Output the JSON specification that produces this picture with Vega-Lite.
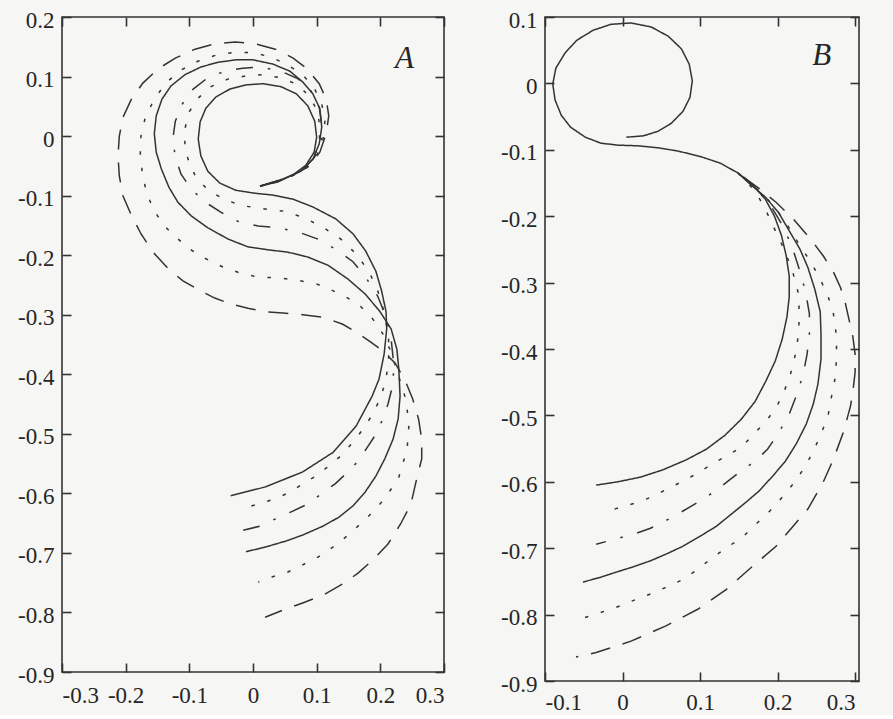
{
"$schema": "https://vega.github.io/schema/vega-lite/v6.json",
"background": "#f6f6f4",
"padding": {"left": 16, "top": 8, "right": 37, "bottom": 0},
"spacing": 101,
"bounds": "flush",
"config": {
  "view": {"stroke": "#333333", "strokeWidth": 1.6},
  "axis": {"labelFont": "Liberation Serif", "labelFontSize": 23, "labelColor": "#262626", "tickColor": "#333333", "tickSize": -9, "tickWidth": 1.6, "domain": false, "grid": false, "title": null, "labelPadding": 17, "labelExpr": "toString(round(datum.value*10)/10)"}
},
"datasets": {
"lineA": [
{"c":"s1","s":"solid","o":1,"x":0.011,"y":-0.084},{"c":"s1","s":"solid","o":2,"x":0.039,"y":-0.077},{"c":"s1","s":"solid","o":3,"x":0.063,"y":-0.065},{"c":"s1","s":"solid","o":4,"x":0.083,"y":-0.049},{"c":"s1","s":"solid","o":5,"x":0.096,"y":-0.027},{"c":"s1","s":"solid","o":6,"x":0.1,"y":-0.002},{"c":"s1","s":"solid","o":7,"x":0.097,"y":0.025},{"c":"s1","s":"solid","o":8,"x":0.086,"y":0.051},{"c":"s1","s":"solid","o":9,"x":0.068,"y":0.071},{"c":"s1","s":"solid","o":10,"x":0.044,"y":0.083},{"c":"s1","s":"solid","o":11,"x":0.016,"y":0.088},{"c":"s1","s":"solid","o":12,"x":-0.011,"y":0.086},{"c":"s1","s":"solid","o":13,"x":-0.036,"y":0.079},{"c":"s1","s":"solid","o":14,"x":-0.058,"y":0.066},{"c":"s1","s":"solid","o":15,"x":-0.074,"y":0.047},{"c":"s1","s":"solid","o":16,"x":-0.083,"y":0.024},{"c":"s1","s":"solid","o":17,"x":-0.086,"y":-0.005},{"c":"s1","s":"solid","o":18,"x":-0.082,"y":-0.033},{"c":"s1","s":"solid","o":19,"x":-0.071,"y":-0.059},{"c":"s1","s":"solid","o":20,"x":-0.052,"y":-0.079},{"c":"s1","s":"solid","o":21,"x":-0.027,"y":-0.091},{"c":"s1","s":"solid","o":22,"x":0.003,"y":-0.096},{"c":"s1","s":"solid","o":23,"x":0.031,"y":-0.099},{"c":"s1","s":"solid","o":24,"x":0.063,"y":-0.106},{"c":"s1","s":"solid","o":25,"x":0.094,"y":-0.119},{"c":"s1","s":"solid","o":26,"x":0.13,"y":-0.139},{"c":"s1","s":"solid","o":27,"x":0.157,"y":-0.164},{"c":"s1","s":"solid","o":28,"x":0.177,"y":-0.193},{"c":"s1","s":"solid","o":29,"x":0.193,"y":-0.227},{"c":"s1","s":"solid","o":30,"x":0.202,"y":-0.26},{"c":"s1","s":"solid","o":31,"x":0.209,"y":-0.295},{"c":"s1","s":"solid","o":32,"x":0.21,"y":-0.324},{"c":"s1","s":"solid","o":33,"x":0.206,"y":-0.366},{"c":"s1","s":"solid","o":34,"x":0.198,"y":-0.408},{"c":"s1","s":"solid","o":35,"x":0.187,"y":-0.437},{"c":"s1","s":"solid","o":36,"x":0.162,"y":-0.487},{"c":"s1","s":"solid","o":37,"x":0.126,"y":-0.531},{"c":"s1","s":"solid","o":38,"x":0.078,"y":-0.564},{"c":"s1","s":"solid","o":39,"x":0.02,"y":-0.589},{"c":"s1","s":"solid","o":40,"x":-0.035,"y":-0.604},
{"c":"d1","s":"dotted","o":1,"x":0.011,"y":-0.084},{"c":"d1","s":"dotted","o":2,"x":0.047,"y":-0.074},{"c":"d1","s":"dotted","o":3,"x":0.074,"y":-0.06},{"c":"d1","s":"dotted","o":4,"x":0.093,"y":-0.04},{"c":"d1","s":"dotted","o":5,"x":0.104,"y":-0.015},{"c":"d1","s":"dotted","o":6,"x":0.105,"y":0.012},{"c":"d1","s":"dotted","o":7,"x":0.102,"y":0.041},{"c":"d1","s":"dotted","o":8,"x":0.089,"y":0.066},{"c":"d1","s":"dotted","o":9,"x":0.071,"y":0.086},{"c":"d1","s":"dotted","o":10,"x":0.044,"y":0.098},{"c":"d1","s":"dotted","o":11,"x":0.016,"y":0.103},{"c":"d1","s":"dotted","o":12,"x":-0.011,"y":0.101},{"c":"d1","s":"dotted","o":13,"x":-0.039,"y":0.096},{"c":"d1","s":"dotted","o":14,"x":-0.066,"y":0.083},{"c":"d1","s":"dotted","o":15,"x":-0.086,"y":0.064},{"c":"d1","s":"dotted","o":16,"x":-0.1,"y":0.041},{"c":"d1","s":"dotted","o":17,"x":-0.107,"y":0.012},{"c":"d1","s":"dotted","o":18,"x":-0.107,"y":-0.018},{"c":"d1","s":"dotted","o":19,"x":-0.1,"y":-0.047},{"c":"d1","s":"dotted","o":20,"x":-0.088,"y":-0.072},{"c":"d1","s":"dotted","o":21,"x":-0.069,"y":-0.092},{"c":"d1","s":"dotted","o":22,"x":-0.044,"y":-0.107},{"c":"d1","s":"dotted","o":23,"x":-0.016,"y":-0.117},{"c":"d1","s":"dotted","o":24,"x":0.016,"y":-0.122},{"c":"d1","s":"dotted","o":25,"x":0.047,"y":-0.126},{"c":"d1","s":"dotted","o":26,"x":0.078,"y":-0.136},{"c":"d1","s":"dotted","o":27,"x":0.11,"y":-0.153},{"c":"d1","s":"dotted","o":28,"x":0.138,"y":-0.173},{"c":"d1","s":"dotted","o":29,"x":0.162,"y":-0.198},{"c":"d1","s":"dotted","o":30,"x":0.182,"y":-0.227},{"c":"d1","s":"dotted","o":31,"x":0.196,"y":-0.26},{"c":"d1","s":"dotted","o":32,"x":0.207,"y":-0.299},{"c":"d1","s":"dotted","o":33,"x":0.213,"y":-0.341},{"c":"d1","s":"dotted","o":34,"x":0.213,"y":-0.374},{"c":"d1","s":"dotted","o":35,"x":0.209,"y":-0.408},{"c":"d1","s":"dotted","o":36,"x":0.201,"y":-0.438},{"c":"d1","s":"dotted","o":37,"x":0.188,"y":-0.467},{"c":"d1","s":"dotted","o":38,"x":0.173,"y":-0.492},{"c":"d1","s":"dotted","o":39,"x":0.157,"y":-0.514},{"c":"d1","s":"dotted","o":40,"x":0.138,"y":-0.537},{"c":"d1","s":"dotted","o":41,"x":0.119,"y":-0.554},{"c":"d1","s":"dotted","o":42,"x":0.102,"y":-0.569},{"c":"d1","s":"dotted","o":43,"x":0.078,"y":-0.584},{"c":"d1","s":"dotted","o":44,"x":0.058,"y":-0.598},{"c":"d1","s":"dotted","o":45,"x":0.035,"y":-0.609},{"c":"d1","s":"dotted","o":46,"x":0.008,"y":-0.618},{"c":"d1","s":"dotted","o":47,"x":-0.019,"y":-0.626},
{"c":"dd1","s":"dashdot","o":1,"x":0.011,"y":-0.084},{"c":"dd1","s":"dashdot","o":2,"x":0.05,"y":-0.072},{"c":"dd1","s":"dashdot","o":3,"x":0.078,"y":-0.057},{"c":"dd1","s":"dashdot","o":4,"x":0.097,"y":-0.035},{"c":"dd1","s":"dashdot","o":5,"x":0.107,"y":-0.01},{"c":"dd1","s":"dashdot","o":6,"x":0.108,"y":0.019},{"c":"dd1","s":"dashdot","o":7,"x":0.104,"y":0.049},{"c":"dd1","s":"dashdot","o":8,"x":0.091,"y":0.076},{"c":"dd1","s":"dashdot","o":9,"x":0.071,"y":0.096},{"c":"dd1","s":"dashdot","o":10,"x":0.044,"y":0.109},{"c":"dd1","s":"dashdot","o":11,"x":0.013,"y":0.116},{"c":"dd1","s":"dashdot","o":12,"x":-0.016,"y":0.114},{"c":"dd1","s":"dashdot","o":13,"x":-0.044,"y":0.109},{"c":"dd1","s":"dashdot","o":14,"x":-0.071,"y":0.098},{"c":"dd1","s":"dashdot","o":15,"x":-0.094,"y":0.079},{"c":"dd1","s":"dashdot","o":16,"x":-0.111,"y":0.054},{"c":"dd1","s":"dashdot","o":17,"x":-0.122,"y":0.025},{"c":"dd1","s":"dashdot","o":18,"x":-0.126,"y":-0.005},{"c":"dd1","s":"dashdot","o":19,"x":-0.122,"y":-0.035},{"c":"dd1","s":"dashdot","o":20,"x":-0.113,"y":-0.064},{"c":"dd1","s":"dashdot","o":21,"x":-0.097,"y":-0.089},{"c":"dd1","s":"dashdot","o":22,"x":-0.075,"y":-0.111},{"c":"dd1","s":"dashdot","o":23,"x":-0.05,"y":-0.128},{"c":"dd1","s":"dashdot","o":24,"x":-0.024,"y":-0.143},{"c":"dd1","s":"dashdot","o":25,"x":0.008,"y":-0.151},{"c":"dd1","s":"dashdot","o":26,"x":0.039,"y":-0.154},{"c":"dd1","s":"dashdot","o":27,"x":0.071,"y":-0.161},{"c":"dd1","s":"dashdot","o":28,"x":0.102,"y":-0.173},{"c":"dd1","s":"dashdot","o":29,"x":0.13,"y":-0.19},{"c":"dd1","s":"dashdot","o":30,"x":0.157,"y":-0.211},{"c":"dd1","s":"dashdot","o":31,"x":0.177,"y":-0.237},{"c":"dd1","s":"dashdot","o":32,"x":0.196,"y":-0.269},{"c":"dd1","s":"dashdot","o":33,"x":0.209,"y":-0.304},{"c":"dd1","s":"dashdot","o":34,"x":0.217,"y":-0.341},{"c":"dd1","s":"dashdot","o":35,"x":0.221,"y":-0.383},{"c":"dd1","s":"dashdot","o":36,"x":0.22,"y":-0.416},{"c":"dd1","s":"dashdot","o":37,"x":0.212,"y":-0.45},{"c":"dd1","s":"dashdot","o":38,"x":0.204,"y":-0.475},{"c":"dd1","s":"dashdot","o":39,"x":0.191,"y":-0.504},{"c":"dd1","s":"dashdot","o":40,"x":0.18,"y":-0.522},{"c":"dd1","s":"dashdot","o":41,"x":0.165,"y":-0.546},{"c":"dd1","s":"dashdot","o":42,"x":0.149,"y":-0.564},{"c":"dd1","s":"dashdot","o":43,"x":0.129,"y":-0.584},{"c":"dd1","s":"dashdot","o":44,"x":0.107,"y":-0.601},{"c":"dd1","s":"dashdot","o":45,"x":0.086,"y":-0.618},{"c":"dd1","s":"dashdot","o":46,"x":0.06,"y":-0.631},{"c":"dd1","s":"dashdot","o":47,"x":0.035,"y":-0.643},{"c":"dd1","s":"dashdot","o":48,"x":0.011,"y":-0.655},{"c":"dd1","s":"dashdot","o":49,"x":-0.019,"y":-0.663},
{"c":"s2","s":"solid","o":1,"x":0.011,"y":-0.084},{"c":"s2","s":"solid","o":2,"x":0.047,"y":-0.072},{"c":"s2","s":"solid","o":3,"x":0.075,"y":-0.059},{"c":"s2","s":"solid","o":4,"x":0.094,"y":-0.039},{"c":"s2","s":"solid","o":5,"x":0.104,"y":-0.013},{"c":"s2","s":"solid","o":6,"x":0.108,"y":0.015},{"c":"s2","s":"solid","o":7,"x":0.105,"y":0.046},{"c":"s2","s":"solid","o":8,"x":0.094,"y":0.071},{"c":"s2","s":"solid","o":9,"x":0.078,"y":0.091},{"c":"s2","s":"solid","o":10,"x":0.058,"y":0.109},{"c":"s2","s":"solid","o":11,"x":0.031,"y":0.121},{"c":"s2","s":"solid","o":12,"x":0.0,"y":0.128},{"c":"s2","s":"solid","o":13,"x":-0.027,"y":0.128},{"c":"s2","s":"solid","o":14,"x":-0.055,"y":0.124},{"c":"s2","s":"solid","o":15,"x":-0.082,"y":0.116},{"c":"s2","s":"solid","o":16,"x":-0.107,"y":0.103},{"c":"s2","s":"solid","o":17,"x":-0.129,"y":0.084},{"c":"s2","s":"solid","o":18,"x":-0.143,"y":0.062},{"c":"s2","s":"solid","o":19,"x":-0.152,"y":0.034},{"c":"s2","s":"solid","o":20,"x":-0.155,"y":0.004},{"c":"s2","s":"solid","o":21,"x":-0.152,"y":-0.027},{"c":"s2","s":"solid","o":22,"x":-0.144,"y":-0.055},{"c":"s2","s":"solid","o":23,"x":-0.132,"y":-0.086},{"c":"s2","s":"solid","o":24,"x":-0.118,"y":-0.111},{"c":"s2","s":"solid","o":25,"x":-0.097,"y":-0.134},{"c":"s2","s":"solid","o":26,"x":-0.071,"y":-0.154},{"c":"s2","s":"solid","o":27,"x":-0.039,"y":-0.173},{"c":"s2","s":"solid","o":28,"x":-0.008,"y":-0.186},{"c":"s2","s":"solid","o":29,"x":0.024,"y":-0.191},{"c":"s2","s":"solid","o":30,"x":0.055,"y":-0.195},{"c":"s2","s":"solid","o":31,"x":0.086,"y":-0.203},{"c":"s2","s":"solid","o":32,"x":0.118,"y":-0.217},{"c":"s2","s":"solid","o":33,"x":0.149,"y":-0.24},{"c":"s2","s":"solid","o":34,"x":0.176,"y":-0.265},{"c":"s2","s":"solid","o":35,"x":0.199,"y":-0.294},{"c":"s2","s":"solid","o":36,"x":0.217,"y":-0.324},{"c":"s2","s":"solid","o":37,"x":0.226,"y":-0.358},{"c":"s2","s":"solid","o":38,"x":0.229,"y":-0.391},{"c":"s2","s":"solid","o":39,"x":0.231,"y":-0.437},{"c":"s2","s":"solid","o":40,"x":0.228,"y":-0.475},{"c":"s2","s":"solid","o":41,"x":0.22,"y":-0.509},{"c":"s2","s":"solid","o":42,"x":0.207,"y":-0.542},{"c":"s2","s":"solid","o":43,"x":0.193,"y":-0.571},{"c":"s2","s":"solid","o":44,"x":0.176,"y":-0.598},{"c":"s2","s":"solid","o":45,"x":0.157,"y":-0.621},{"c":"s2","s":"solid","o":46,"x":0.135,"y":-0.64},{"c":"s2","s":"solid","o":47,"x":0.11,"y":-0.655},{"c":"s2","s":"solid","o":48,"x":0.078,"y":-0.67},{"c":"s2","s":"solid","o":49,"x":0.052,"y":-0.68},{"c":"s2","s":"solid","o":50,"x":0.02,"y":-0.69},{"c":"s2","s":"solid","o":51,"x":-0.011,"y":-0.698},
{"c":"d2","s":"dotted","o":1,"x":0.011,"y":-0.084},{"c":"d2","s":"dotted","o":2,"x":0.052,"y":-0.072},{"c":"d2","s":"dotted","o":3,"x":0.082,"y":-0.055},{"c":"d2","s":"dotted","o":4,"x":0.1,"y":-0.033},{"c":"d2","s":"dotted","o":5,"x":0.11,"y":-0.005},{"c":"d2","s":"dotted","o":6,"x":0.113,"y":0.025},{"c":"d2","s":"dotted","o":7,"x":0.108,"y":0.054},{"c":"d2","s":"dotted","o":8,"x":0.096,"y":0.081},{"c":"d2","s":"dotted","o":9,"x":0.078,"y":0.103},{"c":"d2","s":"dotted","o":10,"x":0.055,"y":0.119},{"c":"d2","s":"dotted","o":11,"x":0.028,"y":0.133},{"c":"d2","s":"dotted","o":12,"x":0.0,"y":0.14},{"c":"d2","s":"dotted","o":13,"x":-0.028,"y":0.141},{"c":"d2","s":"dotted","o":14,"x":-0.058,"y":0.136},{"c":"d2","s":"dotted","o":15,"x":-0.086,"y":0.126},{"c":"d2","s":"dotted","o":16,"x":-0.113,"y":0.111},{"c":"d2","s":"dotted","o":17,"x":-0.137,"y":0.089},{"c":"d2","s":"dotted","o":18,"x":-0.155,"y":0.062},{"c":"d2","s":"dotted","o":19,"x":-0.169,"y":0.032},{"c":"d2","s":"dotted","o":20,"x":-0.176,"y":0.0},{"c":"d2","s":"dotted","o":21,"x":-0.177,"y":-0.03},{"c":"d2","s":"dotted","o":22,"x":-0.174,"y":-0.06},{"c":"d2","s":"dotted","o":23,"x":-0.168,"y":-0.092},{"c":"d2","s":"dotted","o":24,"x":-0.157,"y":-0.122},{"c":"d2","s":"dotted","o":25,"x":-0.141,"y":-0.149},{"c":"d2","s":"dotted","o":26,"x":-0.122,"y":-0.169},{"c":"d2","s":"dotted","o":27,"x":-0.099,"y":-0.19},{"c":"d2","s":"dotted","o":28,"x":-0.074,"y":-0.206},{"c":"d2","s":"dotted","o":29,"x":-0.047,"y":-0.22},{"c":"d2","s":"dotted","o":30,"x":-0.02,"y":-0.23},{"c":"d2","s":"dotted","o":31,"x":0.008,"y":-0.237},{"c":"d2","s":"dotted","o":32,"x":0.039,"y":-0.238},{"c":"d2","s":"dotted","o":33,"x":0.074,"y":-0.243},{"c":"d2","s":"dotted","o":34,"x":0.099,"y":-0.248},{"c":"d2","s":"dotted","o":35,"x":0.122,"y":-0.258},{"c":"d2","s":"dotted","o":36,"x":0.146,"y":-0.27},{"c":"d2","s":"dotted","o":37,"x":0.168,"y":-0.285},{"c":"d2","s":"dotted","o":38,"x":0.188,"y":-0.307},{"c":"d2","s":"dotted","o":39,"x":0.204,"y":-0.332},{"c":"d2","s":"dotted","o":40,"x":0.215,"y":-0.358},{"c":"d2","s":"dotted","o":41,"x":0.228,"y":-0.4},{"c":"d2","s":"dotted","o":42,"x":0.24,"y":-0.442},{"c":"d2","s":"dotted","o":43,"x":0.245,"y":-0.484},{"c":"d2","s":"dotted","o":44,"x":0.242,"y":-0.526},{"c":"d2","s":"dotted","o":45,"x":0.229,"y":-0.573},{"c":"d2","s":"dotted","o":46,"x":0.207,"y":-0.609},{"c":"d2","s":"dotted","o":47,"x":0.18,"y":-0.64},{"c":"d2","s":"dotted","o":48,"x":0.152,"y":-0.668},{"c":"d2","s":"dotted","o":49,"x":0.126,"y":-0.69},{"c":"d2","s":"dotted","o":50,"x":0.102,"y":-0.707},{"c":"d2","s":"dotted","o":51,"x":0.078,"y":-0.72},{"c":"d2","s":"dotted","o":52,"x":0.055,"y":-0.732},{"c":"d2","s":"dotted","o":53,"x":0.031,"y":-0.74},{"c":"d2","s":"dotted","o":54,"x":0.008,"y":-0.749},
{"c":"dd2","s":"dashed","o":1,"x":0.011,"y":-0.084},{"c":"dd2","s":"dashed","o":2,"x":0.055,"y":-0.07},{"c":"dd2","s":"dashed","o":3,"x":0.086,"y":-0.052},{"c":"dd2","s":"dashed","o":4,"x":0.105,"y":-0.027},{"c":"dd2","s":"dashed","o":5,"x":0.115,"y":0.004},{"c":"dd2","s":"dashed","o":6,"x":0.119,"y":0.034},{"c":"dd2","s":"dashed","o":7,"x":0.115,"y":0.062},{"c":"dd2","s":"dashed","o":8,"x":0.104,"y":0.088},{"c":"dd2","s":"dashed","o":9,"x":0.085,"y":0.113},{"c":"dd2","s":"dashed","o":10,"x":0.063,"y":0.131},{"c":"dd2","s":"dashed","o":11,"x":0.035,"y":0.146},{"c":"dd2","s":"dashed","o":12,"x":0.003,"y":0.155},{"c":"dd2","s":"dashed","o":13,"x":-0.028,"y":0.158},{"c":"dd2","s":"dashed","o":14,"x":-0.06,"y":0.155},{"c":"dd2","s":"dashed","o":15,"x":-0.091,"y":0.146},{"c":"dd2","s":"dashed","o":16,"x":-0.122,"y":0.131},{"c":"dd2","s":"dashed","o":17,"x":-0.149,"y":0.113},{"c":"dd2","s":"dashed","o":18,"x":-0.173,"y":0.089},{"c":"dd2","s":"dashed","o":19,"x":-0.191,"y":0.062},{"c":"dd2","s":"dashed","o":20,"x":-0.204,"y":0.032},{"c":"dd2","s":"dashed","o":21,"x":-0.21,"y":0.0},{"c":"dd2","s":"dashed","o":22,"x":-0.212,"y":-0.033},{"c":"dd2","s":"dashed","o":23,"x":-0.21,"y":-0.067},{"c":"dd2","s":"dashed","o":24,"x":-0.204,"y":-0.101},{"c":"dd2","s":"dashed","o":25,"x":-0.191,"y":-0.133},{"c":"dd2","s":"dashed","o":26,"x":-0.176,"y":-0.164},{"c":"dd2","s":"dashed","o":27,"x":-0.157,"y":-0.195},{"c":"dd2","s":"dashed","o":28,"x":-0.133,"y":-0.223},{"c":"dd2","s":"dashed","o":29,"x":-0.11,"y":-0.243},{"c":"dd2","s":"dashed","o":30,"x":-0.086,"y":-0.258},{"c":"dd2","s":"dashed","o":31,"x":-0.06,"y":-0.272},{"c":"dd2","s":"dashed","o":32,"x":-0.035,"y":-0.282},{"c":"dd2","s":"dashed","o":33,"x":-0.008,"y":-0.289},{"c":"dd2","s":"dashed","o":34,"x":0.02,"y":-0.295},{"c":"dd2","s":"dashed","o":35,"x":0.047,"y":-0.297},{"c":"dd2","s":"dashed","o":36,"x":0.078,"y":-0.3},{"c":"dd2","s":"dashed","o":37,"x":0.11,"y":-0.304},{"c":"dd2","s":"dashed","o":38,"x":0.141,"y":-0.316},{"c":"dd2","s":"dashed","o":39,"x":0.165,"y":-0.331},{"c":"dd2","s":"dashed","o":40,"x":0.185,"y":-0.346},{"c":"dd2","s":"dashed","o":41,"x":0.204,"y":-0.361},{"c":"dd2","s":"dashed","o":42,"x":0.223,"y":-0.381},{"c":"dd2","s":"dashed","o":43,"x":0.238,"y":-0.408},{"c":"dd2","s":"dashed","o":44,"x":0.251,"y":-0.442},{"c":"dd2","s":"dashed","o":45,"x":0.26,"y":-0.475},{"c":"dd2","s":"dashed","o":46,"x":0.265,"y":-0.509},{"c":"dd2","s":"dashed","o":47,"x":0.265,"y":-0.542},{"c":"dd2","s":"dashed","o":48,"x":0.257,"y":-0.576},{"c":"dd2","s":"dashed","o":49,"x":0.248,"y":-0.618},{"c":"dd2","s":"dashed","o":50,"x":0.232,"y":-0.651},{"c":"dd2","s":"dashed","o":51,"x":0.212,"y":-0.685},{"c":"dd2","s":"dashed","o":52,"x":0.188,"y":-0.712},{"c":"dd2","s":"dashed","o":53,"x":0.165,"y":-0.734},{"c":"dd2","s":"dashed","o":54,"x":0.141,"y":-0.752},{"c":"dd2","s":"dashed","o":55,"x":0.11,"y":-0.771},{"c":"dd2","s":"dashed","o":56,"x":0.078,"y":-0.784},{"c":"dd2","s":"dashed","o":57,"x":0.047,"y":-0.796},{"c":"dd2","s":"dashed","o":58,"x":0.019,"y":-0.808}
],
"lineB": [
{"c":"s1","s":"solid","o":1,"x":0.005,"y":-0.081},{"c":"s1","s":"solid","o":2,"x":0.027,"y":-0.079},{"c":"s1","s":"solid","o":3,"x":0.046,"y":-0.072},{"c":"s1","s":"solid","o":4,"x":0.063,"y":-0.06},{"c":"s1","s":"solid","o":5,"x":0.078,"y":-0.042},{"c":"s1","s":"solid","o":6,"x":0.087,"y":-0.021},{"c":"s1","s":"solid","o":7,"x":0.09,"y":0.004},{"c":"s1","s":"solid","o":8,"x":0.086,"y":0.029},{"c":"s1","s":"solid","o":9,"x":0.076,"y":0.052},{"c":"s1","s":"solid","o":10,"x":0.059,"y":0.071},{"c":"s1","s":"solid","o":11,"x":0.037,"y":0.085},{"c":"s1","s":"solid","o":12,"x":0.011,"y":0.091},{"c":"s1","s":"solid","o":13,"x":-0.015,"y":0.089},{"c":"s1","s":"solid","o":14,"x":-0.038,"y":0.08},{"c":"s1","s":"solid","o":15,"x":-0.059,"y":0.065},{"c":"s1","s":"solid","o":16,"x":-0.074,"y":0.046},{"c":"s1","s":"solid","o":17,"x":-0.086,"y":0.023},{"c":"s1","s":"solid","o":18,"x":-0.09,"y":-0.001},{"c":"s1","s":"solid","o":19,"x":-0.087,"y":-0.025},{"c":"s1","s":"solid","o":20,"x":-0.079,"y":-0.048},{"c":"s1","s":"solid","o":21,"x":-0.067,"y":-0.066},{"c":"s1","s":"solid","o":22,"x":-0.048,"y":-0.081},{"c":"s1","s":"solid","o":23,"x":-0.028,"y":-0.09},{"c":"s1","s":"solid","o":24,"x":-0.006,"y":-0.093},{"c":"s1","s":"solid","o":25,"x":0.02,"y":-0.094},{"c":"s1","s":"solid","o":26,"x":0.046,"y":-0.097},{"c":"s1","s":"solid","o":27,"x":0.072,"y":-0.102},{"c":"s1","s":"solid","o":28,"x":0.1,"y":-0.11},{"c":"s1","s":"solid","o":29,"x":0.126,"y":-0.12},{"c":"s1","s":"solid","o":30,"x":0.149,"y":-0.135},{"c":"s1","s":"solid","o":31,"x":0.168,"y":-0.153},{"c":"s1","s":"solid","o":32,"x":0.184,"y":-0.174},{"c":"s1","s":"solid","o":33,"x":0.196,"y":-0.2},{"c":"s1","s":"solid","o":34,"x":0.205,"y":-0.229},{"c":"s1","s":"solid","o":35,"x":0.211,"y":-0.259},{"c":"s1","s":"solid","o":36,"x":0.215,"y":-0.29},{"c":"s1","s":"solid","o":37,"x":0.215,"y":-0.322},{"c":"s1","s":"solid","o":38,"x":0.212,"y":-0.352},{"c":"s1","s":"solid","o":39,"x":0.206,"y":-0.385},{"c":"s1","s":"solid","o":40,"x":0.197,"y":-0.418},{"c":"s1","s":"solid","o":41,"x":0.185,"y":-0.448},{"c":"s1","s":"solid","o":42,"x":0.171,"y":-0.479},{"c":"s1","s":"solid","o":43,"x":0.153,"y":-0.506},{"c":"s1","s":"solid","o":44,"x":0.132,"y":-0.53},{"c":"s1","s":"solid","o":45,"x":0.108,"y":-0.551},{"c":"s1","s":"solid","o":46,"x":0.082,"y":-0.567},{"c":"s1","s":"solid","o":47,"x":0.052,"y":-0.582},{"c":"s1","s":"solid","o":48,"x":0.023,"y":-0.593},{"c":"s1","s":"solid","o":49,"x":-0.006,"y":-0.6},{"c":"s1","s":"solid","o":50,"x":-0.034,"y":-0.605},
{"c":"d1","s":"dotted","o":1,"x":0.149,"y":-0.135},{"c":"d1","s":"dotted","o":2,"x":0.171,"y":-0.162},{"c":"d1","s":"dotted","o":3,"x":0.184,"y":-0.189},{"c":"d1","s":"dotted","o":4,"x":0.198,"y":-0.224},{"c":"d1","s":"dotted","o":5,"x":0.21,"y":-0.254},{"c":"d1","s":"dotted","o":6,"x":0.22,"y":-0.286},{"c":"d1","s":"dotted","o":7,"x":0.227,"y":-0.317},{"c":"d1","s":"dotted","o":8,"x":0.228,"y":-0.347},{"c":"d1","s":"dotted","o":9,"x":0.227,"y":-0.378},{"c":"d1","s":"dotted","o":10,"x":0.223,"y":-0.408},{"c":"d1","s":"dotted","o":11,"x":0.216,"y":-0.441},{"c":"d1","s":"dotted","o":12,"x":0.207,"y":-0.468},{"c":"d1","s":"dotted","o":13,"x":0.197,"y":-0.491},{"c":"d1","s":"dotted","o":14,"x":0.184,"y":-0.51},{"c":"d1","s":"dotted","o":15,"x":0.168,"y":-0.53},{"c":"d1","s":"dotted","o":16,"x":0.153,"y":-0.548},{"c":"d1","s":"dotted","o":17,"x":0.136,"y":-0.56},{"c":"d1","s":"dotted","o":18,"x":0.117,"y":-0.572},{"c":"d1","s":"dotted","o":19,"x":0.097,"y":-0.587},{"c":"d1","s":"dotted","o":20,"x":0.078,"y":-0.599},{"c":"d1","s":"dotted","o":21,"x":0.059,"y":-0.61},{"c":"d1","s":"dotted","o":22,"x":0.039,"y":-0.622},{"c":"d1","s":"dotted","o":23,"x":0.02,"y":-0.631},{"c":"d1","s":"dotted","o":24,"x":-0.002,"y":-0.638},{"c":"d1","s":"dotted","o":25,"x":-0.023,"y":-0.646},
{"c":"dd1","s":"dashdot","o":1,"x":0.149,"y":-0.135},{"c":"dd1","s":"dashdot","o":2,"x":0.175,"y":-0.162},{"c":"dd1","s":"dashdot","o":3,"x":0.192,"y":-0.186},{"c":"dd1","s":"dashdot","o":4,"x":0.207,"y":-0.215},{"c":"dd1","s":"dashdot","o":5,"x":0.219,"y":-0.247},{"c":"dd1","s":"dashdot","o":6,"x":0.228,"y":-0.28},{"c":"dd1","s":"dashdot","o":7,"x":0.236,"y":-0.313},{"c":"dd1","s":"dashdot","o":8,"x":0.241,"y":-0.347},{"c":"dd1","s":"dashdot","o":9,"x":0.241,"y":-0.378},{"c":"dd1","s":"dashdot","o":10,"x":0.238,"y":-0.408},{"c":"dd1","s":"dashdot","o":11,"x":0.233,"y":-0.438},{"c":"dd1","s":"dashdot","o":12,"x":0.225,"y":-0.468},{"c":"dd1","s":"dashdot","o":13,"x":0.215,"y":-0.498},{"c":"dd1","s":"dashdot","o":14,"x":0.202,"y":-0.525},{"c":"dd1","s":"dashdot","o":15,"x":0.187,"y":-0.551},{"c":"dd1","s":"dashdot","o":16,"x":0.171,"y":-0.569},{"c":"dd1","s":"dashdot","o":17,"x":0.156,"y":-0.581},{"c":"dd1","s":"dashdot","o":18,"x":0.136,"y":-0.599},{"c":"dd1","s":"dashdot","o":19,"x":0.117,"y":-0.616},{"c":"dd1","s":"dashdot","o":20,"x":0.097,"y":-0.631},{"c":"dd1","s":"dashdot","o":21,"x":0.078,"y":-0.644},{"c":"dd1","s":"dashdot","o":22,"x":0.055,"y":-0.659},{"c":"dd1","s":"dashdot","o":23,"x":0.036,"y":-0.67},{"c":"dd1","s":"dashdot","o":24,"x":0.014,"y":-0.679},{"c":"dd1","s":"dashdot","o":25,"x":-0.015,"y":-0.688},{"c":"dd1","s":"dashdot","o":26,"x":-0.034,"y":-0.694},
{"c":"s2","s":"solid","o":1,"x":0.149,"y":-0.135},{"c":"s2","s":"solid","o":2,"x":0.168,"y":-0.155},{"c":"s2","s":"solid","o":3,"x":0.184,"y":-0.171},{"c":"s2","s":"solid","o":4,"x":0.201,"y":-0.194},{"c":"s2","s":"solid","o":5,"x":0.216,"y":-0.224},{"c":"s2","s":"solid","o":6,"x":0.229,"y":-0.25},{"c":"s2","s":"solid","o":7,"x":0.239,"y":-0.277},{"c":"s2","s":"solid","o":8,"x":0.248,"y":-0.31},{"c":"s2","s":"solid","o":9,"x":0.255,"y":-0.344},{"c":"s2","s":"solid","o":10,"x":0.256,"y":-0.378},{"c":"s2","s":"solid","o":11,"x":0.256,"y":-0.415},{"c":"s2","s":"solid","o":12,"x":0.252,"y":-0.453},{"c":"s2","s":"solid","o":13,"x":0.246,"y":-0.483},{"c":"s2","s":"solid","o":14,"x":0.237,"y":-0.513},{"c":"s2","s":"solid","o":15,"x":0.224,"y":-0.543},{"c":"s2","s":"solid","o":16,"x":0.21,"y":-0.569},{"c":"s2","s":"solid","o":17,"x":0.194,"y":-0.591},{"c":"s2","s":"solid","o":18,"x":0.176,"y":-0.614},{"c":"s2","s":"solid","o":19,"x":0.159,"y":-0.631},{"c":"s2","s":"solid","o":20,"x":0.14,"y":-0.649},{"c":"s2","s":"solid","o":21,"x":0.121,"y":-0.667},{"c":"s2","s":"solid","o":22,"x":0.1,"y":-0.682},{"c":"s2","s":"solid","o":23,"x":0.078,"y":-0.697},{"c":"s2","s":"solid","o":24,"x":0.056,"y":-0.709},{"c":"s2","s":"solid","o":25,"x":0.036,"y":-0.719},{"c":"s2","s":"solid","o":26,"x":0.014,"y":-0.728},{"c":"s2","s":"solid","o":27,"x":-0.008,"y":-0.736},{"c":"s2","s":"solid","o":28,"x":-0.029,"y":-0.744},{"c":"s2","s":"solid","o":29,"x":-0.051,"y":-0.751},
{"c":"d2","s":"dotted","o":1,"x":0.156,"y":-0.141},{"c":"d2","s":"dotted","o":2,"x":0.181,"y":-0.167},{"c":"d2","s":"dotted","o":3,"x":0.198,"y":-0.189},{"c":"d2","s":"dotted","o":4,"x":0.214,"y":-0.216},{"c":"d2","s":"dotted","o":5,"x":0.229,"y":-0.245},{"c":"d2","s":"dotted","o":6,"x":0.243,"y":-0.269},{"c":"d2","s":"dotted","o":7,"x":0.255,"y":-0.295},{"c":"d2","s":"dotted","o":8,"x":0.265,"y":-0.32},{"c":"d2","s":"dotted","o":9,"x":0.272,"y":-0.347},{"c":"d2","s":"dotted","o":10,"x":0.276,"y":-0.381},{"c":"d2","s":"dotted","o":11,"x":0.276,"y":-0.415},{"c":"d2","s":"dotted","o":12,"x":0.274,"y":-0.445},{"c":"d2","s":"dotted","o":13,"x":0.269,"y":-0.475},{"c":"d2","s":"dotted","o":14,"x":0.265,"y":-0.501},{"c":"d2","s":"dotted","o":15,"x":0.256,"y":-0.528},{"c":"d2","s":"dotted","o":16,"x":0.246,"y":-0.554},{"c":"d2","s":"dotted","o":17,"x":0.236,"y":-0.576},{"c":"d2","s":"dotted","o":18,"x":0.223,"y":-0.599},{"c":"d2","s":"dotted","o":19,"x":0.207,"y":-0.622},{"c":"d2","s":"dotted","o":20,"x":0.19,"y":-0.644},{"c":"d2","s":"dotted","o":21,"x":0.172,"y":-0.664},{"c":"d2","s":"dotted","o":22,"x":0.156,"y":-0.682},{"c":"d2","s":"dotted","o":23,"x":0.136,"y":-0.698},{"c":"d2","s":"dotted","o":24,"x":0.117,"y":-0.713},{"c":"d2","s":"dotted","o":25,"x":0.097,"y":-0.732},{"c":"d2","s":"dotted","o":26,"x":0.078,"y":-0.747},{"c":"d2","s":"dotted","o":27,"x":0.056,"y":-0.759},{"c":"d2","s":"dotted","o":28,"x":0.036,"y":-0.769},{"c":"d2","s":"dotted","o":29,"x":0.011,"y":-0.78},{"c":"d2","s":"dotted","o":30,"x":-0.01,"y":-0.79},{"c":"d2","s":"dotted","o":31,"x":-0.034,"y":-0.799},{"c":"d2","s":"dotted","o":32,"x":-0.055,"y":-0.807},
{"c":"dd2","s":"dashed","o":1,"x":0.156,"y":-0.141},{"c":"dd2","s":"dashed","o":2,"x":0.177,"y":-0.159},{"c":"dd2","s":"dashed","o":3,"x":0.198,"y":-0.179},{"c":"dd2","s":"dashed","o":4,"x":0.22,"y":-0.204},{"c":"dd2","s":"dashed","o":5,"x":0.243,"y":-0.235},{"c":"dd2","s":"dashed","o":6,"x":0.259,"y":-0.26},{"c":"dd2","s":"dashed","o":7,"x":0.272,"y":-0.284},{"c":"dd2","s":"dashed","o":8,"x":0.281,"y":-0.307},{"c":"dd2","s":"dashed","o":9,"x":0.287,"y":-0.329},{"c":"dd2","s":"dashed","o":10,"x":0.292,"y":-0.355},{"c":"dd2","s":"dashed","o":11,"x":0.297,"y":-0.381},{"c":"dd2","s":"dashed","o":12,"x":0.3,"y":-0.408},{"c":"dd2","s":"dashed","o":13,"x":0.3,"y":-0.435},{"c":"dd2","s":"dashed","o":14,"x":0.297,"y":-0.465},{"c":"dd2","s":"dashed","o":15,"x":0.294,"y":-0.486},{"c":"dd2","s":"dashed","o":16,"x":0.285,"y":-0.525},{"c":"dd2","s":"dashed","o":17,"x":0.272,"y":-0.566},{"c":"dd2","s":"dashed","o":18,"x":0.259,"y":-0.6},{"c":"dd2","s":"dashed","o":19,"x":0.239,"y":-0.641},{"c":"dd2","s":"dashed","o":20,"x":0.22,"y":-0.667},{"c":"dd2","s":"dashed","o":21,"x":0.198,"y":-0.697},{"c":"dd2","s":"dashed","o":22,"x":0.168,"y":-0.727},{"c":"dd2","s":"dashed","o":23,"x":0.134,"y":-0.762},{"c":"dd2","s":"dashed","o":24,"x":0.097,"y":-0.792},{"c":"dd2","s":"dashed","o":25,"x":0.056,"y":-0.817},{"c":"dd2","s":"dashed","o":26,"x":0.011,"y":-0.84},{"c":"dd2","s":"dashed","o":27,"x":-0.034,"y":-0.857},{"c":"dd2","s":"dashed","o":28,"x":-0.06,"y":-0.864}
],
"labA": [{"t":"A","x":0.238,"y":0.129}],
"labB": [{"t":"B","x":0.257,"y":0.041}]
},
"hconcat": [
{
  "width": 382, "height": 655,
  "layer": [
    {
      "data": {"name": "lineA"},
      "mark": {"type": "line", "strokeWidth": 1.5, "color": "#333333"},
      "encoding": {
        "x": {"field": "x", "type": "quantitative", "scale": {"domain": [-0.3, 0.3], "nice": false, "zero": false}, "axis": {"orient": "bottom", "values": [-0.3,-0.2,-0.1,0,0.1,0.2,0.3], "labelFlush": 6, "labelPadding": 21}},
        "y": {"field": "y", "type": "quantitative", "scale": {"domain": [-0.9, 0.2], "nice": false, "zero": false}, "axis": {"orient": "left", "values": [-0.9,-0.8,-0.7,-0.6,-0.5,-0.4,-0.3,-0.2,-0.1,0,0.1,0.2], "labelOffset": 3}},
        "detail": {"field": "c"},
        "order": {"field": "o", "type": "quantitative"},
        "strokeDash": {"field": "s", "type": "nominal", "scale": {"domain": ["solid","dotted","dashdot","dashed"], "range": [[1,0],[3.5,13],[17,15,2.5,15],[20,13]]}, "legend": null}
      }
    },
    {
      "data": {"name": "labA"},
      "mark": {"type": "text", "font": "Liberation Serif", "fontSize": 31, "fontStyle": "italic", "color": "#262626", "align": "center", "baseline": "middle"},
      "encoding": {
        "x": {"field": "x", "type": "quantitative", "axis": {"orient": "top", "labels": false, "values": [-0.3,-0.2,-0.1,0,0.1,0.2,0.3]}},
        "y": {"field": "y", "type": "quantitative", "axis": {"orient": "right", "labels": false, "values": [-0.9,-0.8,-0.7,-0.6,-0.5,-0.4,-0.3,-0.2,-0.1,0,0.1,0.2]}},
        "text": {"field": "t"}
      }
    }
  ],
  "resolve": {"axis": {"x": "independent", "y": "independent"}}
},
{
  "width": 314, "height": 664,
  "layer": [
    {
      "data": {"name": "lineB"},
      "mark": {"type": "line", "strokeWidth": 1.5, "color": "#333333"},
      "encoding": {
        "x": {"field": "x", "type": "quantitative", "scale": {"domain": [-0.1, 0.305], "nice": false, "zero": false}, "axis": {"orient": "bottom", "values": [-0.1,0,0.1,0.2,0.3], "labelFlush": 6, "labelPadding": 19}},
        "y": {"field": "y", "type": "quantitative", "scale": {"domain": [-0.9, 0.1], "nice": false, "zero": false}, "axis": {"orient": "left", "values": [-0.9,-0.8,-0.7,-0.6,-0.5,-0.4,-0.3,-0.2,-0.1,0,0.1], "labelOffset": 3}},
        "detail": {"field": "c"},
        "order": {"field": "o", "type": "quantitative"},
        "strokeDash": {"field": "s", "type": "nominal", "scale": {"domain": ["solid","dotted","dashdot","dashed"], "range": [[1,0],[3.5,13],[17,15,2.5,15],[20,13]]}, "legend": null}
      }
    },
    {
      "data": {"name": "labB"},
      "mark": {"type": "text", "font": "Liberation Serif", "fontSize": 31, "fontStyle": "italic", "color": "#262626", "align": "center", "baseline": "middle"},
      "encoding": {
        "x": {"field": "x", "type": "quantitative", "axis": {"orient": "top", "labels": false, "values": [-0.1,0,0.1,0.2,0.3]}},
        "y": {"field": "y", "type": "quantitative", "axis": {"orient": "right", "labels": false, "values": [-0.9,-0.8,-0.7,-0.6,-0.5,-0.4,-0.3,-0.2,-0.1,0,0.1]}},
        "text": {"field": "t"}
      }
    }
  ],
  "resolve": {"axis": {"x": "independent", "y": "independent"}}
}
]
}
